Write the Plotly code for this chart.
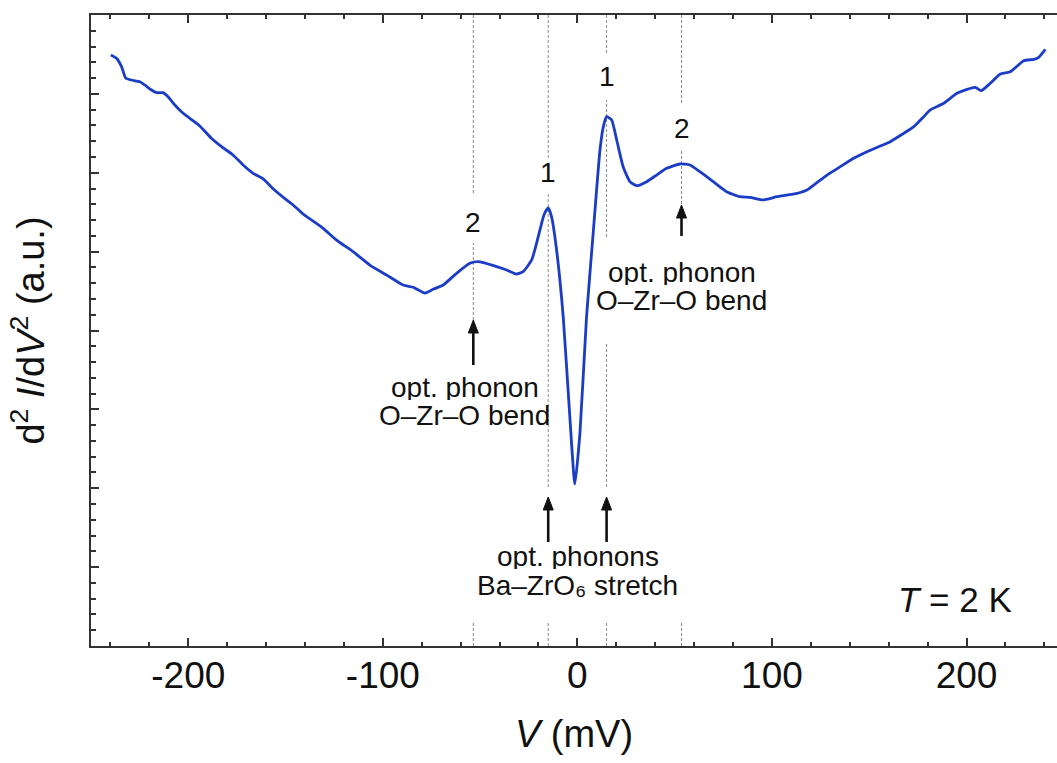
import plotly.graph_objects as go

# Tunnelling spectrum d2I/dV2 at T = 2 K (arbitrary units)
bias_mv = [
    -239.8, -236.9, -234.3, -232.1, -229.2, -224.9, -222.4, -218.9, -216.3, -213.0,
    -210.4, -206.9, -203.5, -199.2, -194.1, -188.1, -182.9, -177.0, -171.8, -166.7,
    -161.5, -156.4, -149.5, -146.1, -141.0, -130.7, -123.8, -115.3, -106.7, -98.1,
    -89.6, -84.4, -78.4, -74.1, -69.0, -62.1, -55.3, -51.0, -48.4, -41.5,
    -36.4, -31.3, -27.9, -23.5, -21.0, -18.4, -17.0, -15.0, -13.3, -10.7,
    -7.3, -3.9, -1.3, 1.3, 4.7, 8.1, 11.6, 13.3, 15.0, 17.6,
    20.2, 23.5, 27.0, 30.4, 35.6, 40.7, 45.9, 52.7, 57.8, 63.0,
    69.8, 76.7, 83.5, 88.7, 95.4, 102.6, 112.9, 118.0, 123.1, 128.3,
    135.1, 142.0, 148.8, 155.7, 160.8, 167.7, 172.9, 178.0, 181.4, 188.3,
    195.1, 200.3, 204.5, 207.5, 212.2, 217.4, 222.5, 229.4, 234.6, 237.1,
    240.5,
]
d2i_au = [
    7.493, 7.451, 7.345, 7.197, 7.176, 7.154, 7.113, 7.049, 7.015, 7.015,
    6.964, 6.859, 6.774, 6.690, 6.593, 6.437, 6.330, 6.225, 6.098, 5.993,
    5.921, 5.797, 5.655, 5.591, 5.477, 5.296, 5.147, 4.999, 4.830, 4.704,
    4.577, 4.548, 4.475, 4.522, 4.577, 4.725, 4.852, 4.872, 4.860, 4.809,
    4.767, 4.716, 4.745, 4.894, 5.106, 5.359, 5.477, 5.553, 5.443, 5.021,
    4.175, 2.907, 2.054, 2.697, 4.175, 5.232, 6.288, 6.580, 6.711, 6.669,
    6.415, 6.077, 5.887, 5.836, 5.887, 5.971, 6.056, 6.111, 6.098, 6.013,
    5.887, 5.760, 5.696, 5.689, 5.655, 5.696, 5.739, 5.781, 5.874, 5.971,
    6.077, 6.183, 6.267, 6.339, 6.394, 6.500, 6.584, 6.711, 6.796, 6.881,
    7.007, 7.058, 7.083, 7.040, 7.134, 7.252, 7.281, 7.421, 7.438, 7.464,
    7.565,
]

# Phonon features (mV) and their mode labels
phonon_mv = [-53.5, -15.0, 15.0, 53.5]
phonon_order = ["2", "1", "1", "2"]

x_ticks = [-200, -100, 0, 100, 200]
x_ticktext = ["-200", "-100", "0", "100", "200"]

W, H = 1057, 763
ML, MT, MB = 91, 15, 117
PLOT_H = H - MT - MB
FONT = "Arial, Liberation Sans, sans-serif"
INK = "#111111"
AXIS = "#333333"


def py(pix_y):
    """Pixel row -> paper fraction."""
    return (H - MB - pix_y) / PLOT_H


fig = go.Figure()
fig.add_trace(go.Scatter(
    x=bias_mv, y=d2i_au, mode="lines",
    line=dict(color="#1a3cc6", width=2.8, shape="spline", smoothing=0.5),
    hoverinfo="skip", showlegend=False,
))

# Dashed guide lines at the phonon energies, broken around labels
guide_segments = [
    [(15, 193), (243, 320), (622, 646)],
    [(15, 158), (193, 487), (622, 646)],
    [(15, 53), (100, 237), (342, 487), (622, 646)],
    [(15, 103), (150, 204), (622, 646)],
]
shapes = []
for xv, segs in zip(phonon_mv, guide_segments):
    for y0, y1 in segs:
        shapes.append(dict(
            type="line", xref="x", yref="paper", x0=xv, x1=xv,
            y0=py(y1), y1=py(y0),
            line=dict(color="#8a8a8a", width=1, dash="3px,2px"), layer="below",
        ))

# Upward arrows under the phonon features: shaft + filled head (pixel-sized)
arrow_rows = [(320, 365), (497, 542), (497, 542), (205, 236)]
HEAD_LEN, HEAD_HALF = 13, 5
for xv, (tip, tail) in zip(phonon_mv, arrow_rows):
    shapes.append(dict(
        type="line", xref="x", yref="paper",
        xsizemode="pixel", xanchor=xv, x0=0, x1=0,
        ysizemode="pixel", yanchor=py(tip), y0=-(HEAD_LEN - 2), y1=-(tail - tip),
        line=dict(color=INK, width=2.6),
    ))
    shapes.append(dict(
        type="path", xref="x", yref="paper",
        xsizemode="pixel", xanchor=xv,
        ysizemode="pixel", yanchor=py(tip),
        path=f"M 0 0 L {HEAD_HALF} {-HEAD_LEN} L {-HEAD_HALF} {-HEAD_LEN} Z",
        fillcolor=INK, line=dict(color=INK, width=1),
    ))

annotations = []
# mode labels above the peaks
label_rows = [222, 172, 77, 128]
for xv, txt, row in zip(phonon_mv, phonon_order, label_rows):
    annotations.append(dict(
        x=xv, y=py(row), xref="x", yref="paper", text=txt, showarrow=False,
        font=dict(family=FONT, size=28, color=INK), xanchor="center", yanchor="middle",
    ))


def text_line(xv, row, txt, size=28):
    # tight line boxes so stacked caption lines sit about 28 px apart
    annotations.append(dict(
        x=xv, y=py(row), xref="x", yref="paper", text=txt, showarrow=False,
        font=dict(family=FONT, size=size, color=INK), xanchor="center", yanchor="middle",
        height=26, valign="middle", borderpad=0,
    ))


text_line(-57.8, 387, "opt. phonon")
text_line(-57.8, 415, "O\u2013Zr\u2013O bend")
text_line(53.5, 272, "opt. phonon")
text_line(53.5, 300, "O\u2013Zr\u2013O bend")
text_line(0.3, 556, "opt. phonons")
text_line(0.0, 585, "Ba\u2013ZrO\u2086 stretch")

annotations.append(dict(
    x=224.5, y=py(599), xref="x", yref="paper", text="<i>T</i> = 2 K", showarrow=False,
    font=dict(family=FONT, size=35, color=INK), xanchor="right", yanchor="middle",
))

fig.update_layout(
    width=W, height=H,
    margin=dict(l=ML, r=0, t=MT, b=MB, pad=0),
    paper_bgcolor="white", plot_bgcolor="white",
    font=dict(family=FONT, color=INK),
    shapes=shapes, annotations=annotations,
    xaxis=dict(
        range=[-250, 246.5], showgrid=False, zeroline=False,
        showline=True, linecolor=AXIS, linewidth=2, mirror="ticks",
        ticks="inside", ticklen=8, tickwidth=2, tickcolor=AXIS,
        tickmode="array", tickvals=x_ticks, ticktext=x_ticktext,
        tickfont=dict(family=FONT, size=37, color=INK), ticklabelstandoff=-4,
        minor=dict(tickmode="linear", tick0=0, dtick=20, ticks="inside",
                   ticklen=4, tickwidth=1.5, tickcolor=AXIS),
        title=dict(text="<i>V</i> (mV)", font=dict(family=FONT, size=38, color=INK), standoff=25),
    ),
    yaxis=dict(
        range=[0, 8], showgrid=False, zeroline=False,
        showline=True, linecolor=AXIS, linewidth=2,
        ticks="inside", ticklen=8, tickwidth=2, tickcolor=AXIS,
        tick0=0, dtick=1, showticklabels=False,
        minor=dict(tickmode="linear", tick0=0, dtick=0.2, ticks="inside",
                   ticklen=5, tickwidth=1.5, tickcolor=AXIS),
        title=dict(text="d<sup>2</sup> <i>I</i>/d<i>V</i><sup>2</sup> (a.u.)",
                   font=dict(family=FONT, size=38, color=INK), standoff=33),
    ),
)

fig.write_html("out.html")
